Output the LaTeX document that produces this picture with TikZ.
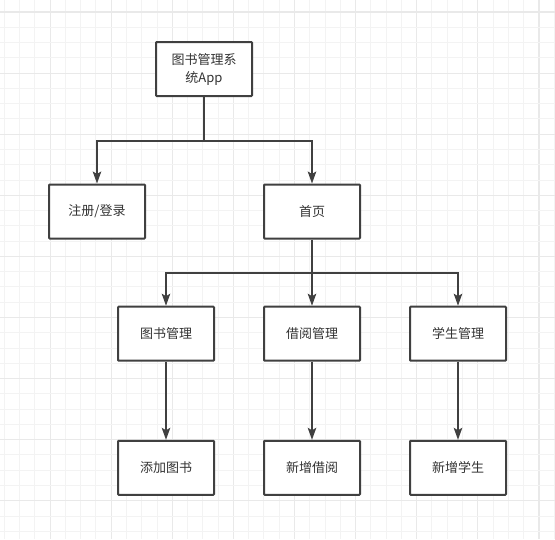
\documentclass[tikz,border=0pt]{standalone}
\usepackage{fontspec}
\newfontfamily\cjk{Noto Sans CJK SC}
\usetikzlibrary{arrows.meta}
\definecolor{minorgrid}{HTML}{F3F3F3}
\definecolor{majorgrid}{HTML}{E9E9E9}
\definecolor{edge}{HTML}{404040}
\definecolor{txt}{HTML}{333333}
\tikzset{
  box/.style={draw=edge, line width=2pt, rounded corners=0.8pt, fill=white, minimum width=96pt, minimum height=54pt, inner sep=2pt, align=center, font=\cjk\fontsize{13pt}{18pt}\selectfont, text=txt},
  arr/.style={draw=edge, line width=1.7pt, -{Stealth[length=12pt,width=8.5pt,inset=2.5pt]}}
}
\begin{document}
\begin{tikzpicture}[x=1pt,y=-1pt]
\useasboundingbox (0,0) rectangle (555,539);
\fill[white] (0,0) rectangle (555,539);
% grid
\foreach \i in {0,...,38}{
  \pgfmathsetmacro\xx{-11+15.275*\i}
  \pgfmathtruncatemacro\m{mod(\i,4)}
  \ifnum\m=0
    \draw[majorgrid, line width=1.2pt] (\xx,0) -- (\xx,539);
  \else
    \draw[minorgrid, line width=1pt] (\xx,0) -- (\xx,539);
  \fi
}
\foreach \i in {0,...,37}{
  \pgfmathsetmacro\yy{-3.275+15.275*\i}
  \pgfmathtruncatemacro\m{mod(\i+3,4)}
  \ifnum\m=0
    \draw[majorgrid, line width=1.2pt] (0,\yy) -- (555,\yy);
  \else
    \draw[minorgrid, line width=1pt] (0,\yy) -- (555,\yy);
  \fi
}
% nodes
\node[box] (app) at (204,69) {图书管理系\\统App};
\node[box] (login) at (97,211.5) {注册/登录};
\node[box] (home) at (312,211.5) {首页};
\node[box] (book) at (166,333.7) {图书管理};
\node[box] (borrow) at (312,333.7) {借阅管理};
\node[box] (student) at (458,333.7) {学生管理};
\node[box] (addbook) at (166,467.8) {添加图书};
\node[box] (addborrow) at (312,467.8) {新增借阅};
\node[box] (addstudent) at (458,467.8) {新增学生};
% junctions
\coordinate (j1) at (204,140.7);
\coordinate (j2) at (312,272.7);
% connectors
\draw[arr] (app.south) -- (j1) -| (login.north);
\draw[arr] (j1) -| (home.north);
\draw[arr] (home.south) -- (borrow.north);
\draw[arr] (j2) -| (book.north);
\draw[arr] (j2) -| (student.north);
\draw[arr] (book.south) -- (addbook.north);
\draw[arr] (borrow.south) -- (addborrow.north);
\draw[arr] (student.south) -- (addstudent.north);
\end{tikzpicture}
\end{document}
